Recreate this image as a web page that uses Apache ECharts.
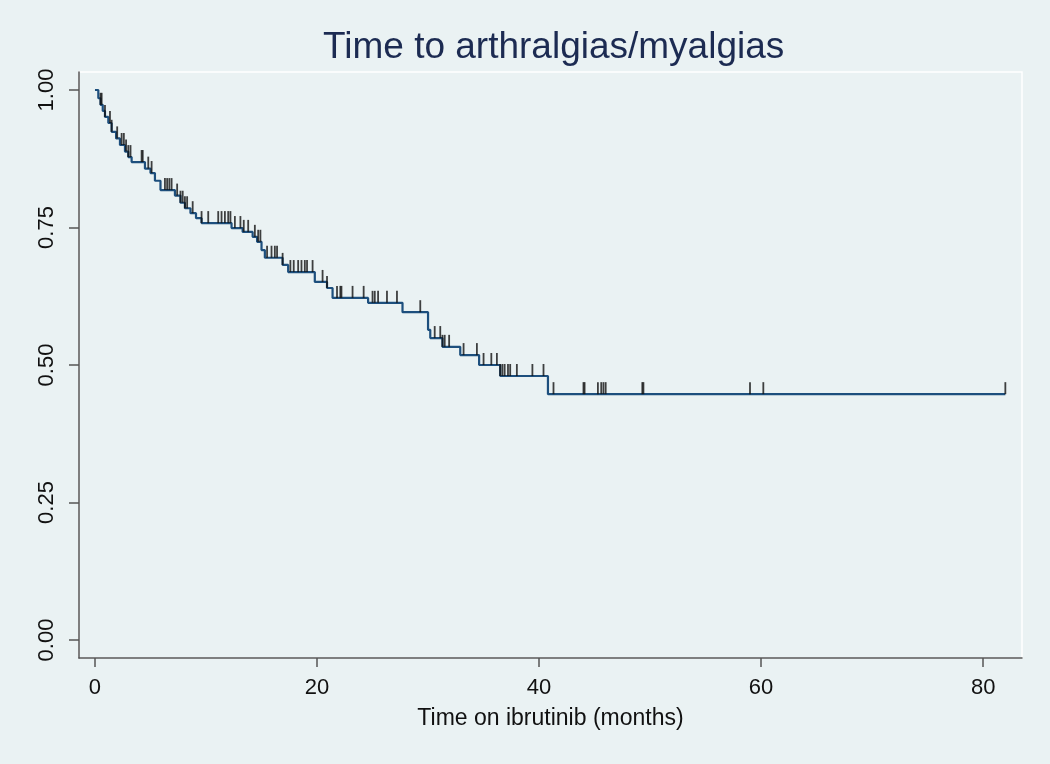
<!DOCTYPE html>
<html>
<head>
<meta charset="utf-8">
<title>Time to arthralgias/myalgias</title>
<script src="https://cdn.jsdelivr.net/npm/echarts@6/dist/echarts.min.js"></script>
<style>
  html, body { margin: 0; padding: 0; background: #eaf2f3; }
  #chart { width: 1050px; height: 764px; }
</style>
</head>
<body>
<div id="chart"></div>
<script>
// Kaplan-Meier steps: time (months) and survival just after that time
const kmTimes = [0, 0.3, 0.5, 0.7, 0.9, 1.2, 1.5, 1.9, 2.25, 2.7, 3.0, 3.3, 4.5, 5.0, 5.4, 5.9,
  7.2, 7.7, 8.1, 8.6, 9.1, 9.6, 12.3, 13.3, 14.2, 14.6, 15.0, 15.3, 16.9, 17.4, 19.8, 20.9,
  21.4, 24.6, 27.7, 30.0, 30.2, 31.3, 32.9, 34.6, 36.5, 40.8, 82.0];
const kmSurv = [1.0, 0.985, 0.973, 0.962, 0.951, 0.94, 0.924, 0.912, 0.9, 0.888, 0.878, 0.869, 0.857, 0.849, 0.835, 0.818,
  0.808, 0.795, 0.785, 0.776, 0.767, 0.758, 0.749, 0.742, 0.733, 0.724, 0.709, 0.695, 0.682, 0.669, 0.651, 0.64,
  0.622, 0.613, 0.596, 0.564, 0.549, 0.533, 0.518, 0.5, 0.48, 0.447, 0.447];

// censored observations (months)
const censorTimes = [0.5, 0.6, 0.9, 1.35, 1.5, 2.0, 2.4, 2.6, 2.8, 3.0, 3.2, 4.2, 4.3, 4.8, 5.1,
  6.3, 6.5, 6.7, 6.9, 7.4, 7.7, 7.9, 8.1, 8.3, 8.8, 9.6, 10.2, 11.1, 11.4, 11.7, 12.0, 12.2,
  12.6, 13.1, 13.4, 13.8, 14.4, 14.7, 14.9, 15.5, 15.9, 16.2, 16.4, 16.9, 17.6, 17.9, 18.3,
  18.6, 18.9, 19.1, 19.6, 20.5, 20.9, 21.8, 22.1, 22.2, 23.2, 24.2, 25.0, 25.2, 25.5, 26.3,
  27.2, 29.3, 30.6, 31.1, 31.3, 31.5, 31.9, 33.2, 34.4, 35.0, 35.7, 36.2, 36.5, 36.7, 36.9,
  37.2, 37.4, 38.0, 39.4, 40.4, 41.3, 44.0, 44.1, 45.3, 45.6, 45.8, 46.0, 49.3, 49.4, 59.0,
  60.2, 82.0];

const xTicks = [0, 20, 40, 60, 80];
const yTicks = [0, 0.25, 0.5, 0.75, 1];

function survAt(t) {
  let s = kmSurv[0];
  for (let i = 0; i < kmTimes.length; i++) {
    if (kmTimes[i] <= t) s = kmSurv[i];
  }
  return s;
}

const curveData = kmTimes.map((t, i) => [t, kmSurv[i]]);
const censorData = censorTimes.map(t => [t, survAt(t)]);

const chart = echarts.init(document.getElementById('chart'));
const font = 'Liberation Sans, Arial, Helvetica, sans-serif';

chart.setOption({
  backgroundColor: '#eaf2f3',
  animation: false,
  title: {
    text: 'Time to arthralgias/myalgias',
    left: 318,
    top: 24,
    textStyle: { color: '#1c2b52', fontFamily: font, fontSize: 37, fontWeight: 'normal' }
  },
  grid: {
    left: 79, right: 28, top: 72, bottom: 106,
    show: true,
    backgroundColor: 'transparent',
    borderColor: '#ffffff',
    borderWidth: 1.5
  },
  xAxis: {
    type: 'value',
    min: -1.44,
    max: 83.5,
    name: 'Time on ibrutinib (months)',
    nameLocation: 'middle',
    nameGap: 49,
    nameTextStyle: { color: '#111', fontFamily: font, fontSize: 23 },
    axisLine: { show: true, onZero: false, lineStyle: { color: '#555', width: 1.5 } },
    axisTick: { show: true, length: 9, customValues: xTicks, lineStyle: { color: '#555', width: 1.5 } },
    axisLabel: { customValues: xTicks, color: '#111', fontFamily: font, fontSize: 22, margin: 19 },
    splitLine: { show: false }
  },
  yAxis: {
    type: 'value',
    min: -0.0327,
    max: 1.0327,
    axisLine: { show: true, onZero: false, lineStyle: { color: '#555', width: 1.5 } },
    axisTick: { show: true, length: 10, customValues: yTicks, lineStyle: { color: '#555', width: 1.5 } },
    axisLabel: {
      customValues: yTicks,
      rotate: 90,
      color: '#111',
      fontFamily: font,
      fontSize: 22,
      margin: 21,
      formatter: v => v.toFixed(2)
    },
    splitLine: { show: false }
  },
  series: [
    {
      type: 'line',
      data: curveData,
      step: 'end',
      showSymbol: false,
      lineStyle: { color: '#1d4f7d', width: 2.2 },
      z: 2
    },
    {
      type: 'scatter',
      data: censorData,
      symbol: 'rect',
      symbolSize: [1.8, 12],
      symbolOffset: [0, -6],
      itemStyle: { color: '#111' },
      silent: true,
      z: 3
    }
  ]
});
</script>
</body>
</html>
